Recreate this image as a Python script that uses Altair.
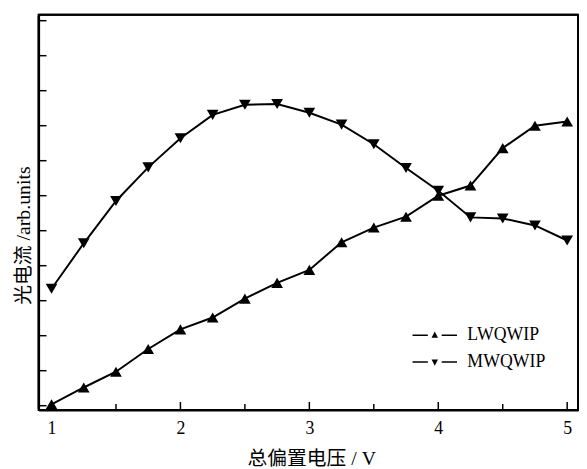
import altair as alt
import pandas as pd

voltage = [1.0, 1.25, 1.5, 1.75, 2.0, 2.25, 2.5, 2.75, 3.0, 3.25, 3.5, 3.75, 4.0, 4.25, 4.5, 4.75, 5.0]
lwqwip = [0.04, 0.52, 0.97, 1.62, 2.18, 2.52, 3.06, 3.51, 3.88, 4.67, 5.09, 5.40, 6.0, 6.29, 7.36, 8.0, 8.12]
mwqwip = [3.34, 4.64, 5.85, 6.81, 7.64, 8.31, 8.60, 8.62, 8.37, 8.03, 7.47, 6.79, 6.14, 5.38, 5.35, 5.15, 4.72]
series_names = ["LWQWIP", "MWQWIP"]
y_ticks = list(range(12))
x_major = [1, 2, 3, 4, 5]
x_minor = [1.5, 2.5, 3.5, 4.5]
x_range = [0.9, 5.084]
y_range = [-0.12, 11.17]

FONT = "Liberation Serif, Noto Sans CJK SC"
W, H = 546, 400

rows = []
for v, a, b in zip(voltage, lwqwip, mwqwip):
    rows.append({"v": v, "i": a, "s": series_names[0]})
    rows.append({"v": v, "i": b, "s": series_names[1]})
df = pd.DataFrame(rows)

xs = alt.Scale(domain=x_range, nice=False, zero=False)
ys = alt.Scale(domain=y_range, nice=False, zero=False)

base = alt.Chart(df)

lines = base.mark_line(color="black", strokeWidth=2).encode(
    x=alt.X("v:Q", scale=xs,
            axis=alt.Axis(title="总偏置电压 / V", values=x_major, format="d", ticks=False,
                          domain=True, domainColor="black", domainWidth=2, grid=False,
                          labelFont=FONT, labelFontSize=18, labelColor="black", labelPadding=10,
                          titleFont=FONT, titleFontSize=20, titleFontWeight="normal", titleColor="black",
                          titlePadding=11, titleX=276)),
    y=alt.Y("i:Q", scale=ys,
            axis=alt.Axis(title="光电流 /arb.units", labels=False, ticks=False,
                          domain=True, domainColor="black", domainWidth=2, grid=False,
                          titleFont=FONT, titleFontSize=20, titleFontWeight="normal", titleColor="black",
                          titlePadding=5, titleY=223)),
    detail="s:N",
)

points = base.mark_point(filled=True, size=140, color="black", opacity=1).encode(
    x=alt.X("v:Q", scale=xs),
    y=alt.Y("i:Q", scale=ys),
    shape=alt.Shape("s:N", scale=alt.Scale(domain=series_names, range=["triangle-up", "triangle-down"]), legend=None),
)

path_up = ("M-4.5,-0.05L-1.4,-0.05L-1.4,0.25L-4.5,0.25Z"
           "M1.4,-0.05L4.5,-0.05L4.5,0.25L1.4,0.25Z"
           "M-0.65,0.6L0,-0.65L0.65,0.6Z")
path_down = ("M-4.5,-0.25L-1.4,-0.25L-1.4,0.05L-4.5,0.05Z"
             "M1.4,-0.25L4.5,-0.25L4.5,0.05L1.4,0.05Z"
             "M-0.65,-0.6L0,0.65L0.65,-0.6Z")

legend_layer = base.mark_point(filled=True, color="black", opacity=1).transform_filter("false").encode(
    x=alt.X("v:Q", scale=xs),
    y=alt.Y("i:Q", scale=ys),
    shape=alt.Shape("s:N", scale=alt.Scale(domain=series_names, range=[path_up, path_down]),
                    legend=alt.Legend(title=None, orient="none", legendX=392, legendY=315,
                                      symbolSize=100, symbolFillColor="black",
                                      labelFont=FONT, labelFontSize=18,
                                      labelColor="black", labelOffset=24, rowPadding=10, padding=0)),
)

ytick = alt.Chart(pd.DataFrame({"i": y_ticks})).mark_rule(color="black", strokeWidth=1.5).encode(
    y=alt.Y("i:Q", scale=ys), x=alt.value(0), x2=alt.value(8))

xmaj = alt.Chart(pd.DataFrame({"v": x_major})).mark_rule(color="black", strokeWidth=1.5).encode(
    x=alt.X("v:Q", scale=xs), y=alt.value(H), y2=alt.value(H - 8))
xmin = alt.Chart(pd.DataFrame({"v": x_minor})).mark_rule(color="black", strokeWidth=1.5).encode(
    x=alt.X("v:Q", scale=xs), y=alt.value(H), y2=alt.value(H - 6))

frame_v = alt.Chart(pd.DataFrame({"v": x_range})).mark_rule(color="black", strokeWidth=2).encode(
    x=alt.X("v:Q", scale=xs), y=alt.value(1), y2=alt.value(H - 1))
frame_h = alt.Chart(pd.DataFrame({"i": y_range})).mark_rule(color="black", strokeWidth=2).encode(
    y=alt.Y("i:Q", scale=ys), x=alt.value(0), x2=alt.value(W))

chart = alt.layer(lines, points, legend_layer, ytick, xmaj, xmin, frame_v, frame_h).resolve_scale(
    shape="independent").resolve_legend(shape="independent").properties(
    width=W, height=H,
    autosize=alt.AutoSizeParams(type="none"),
    padding={"left": 31, "top": 4, "right": 1, "bottom": 57},
    background="white",
).configure_view(stroke="black", strokeWidth=2)

chart.save("out.html", embed_options={"renderer": "svg", "actions": False})
